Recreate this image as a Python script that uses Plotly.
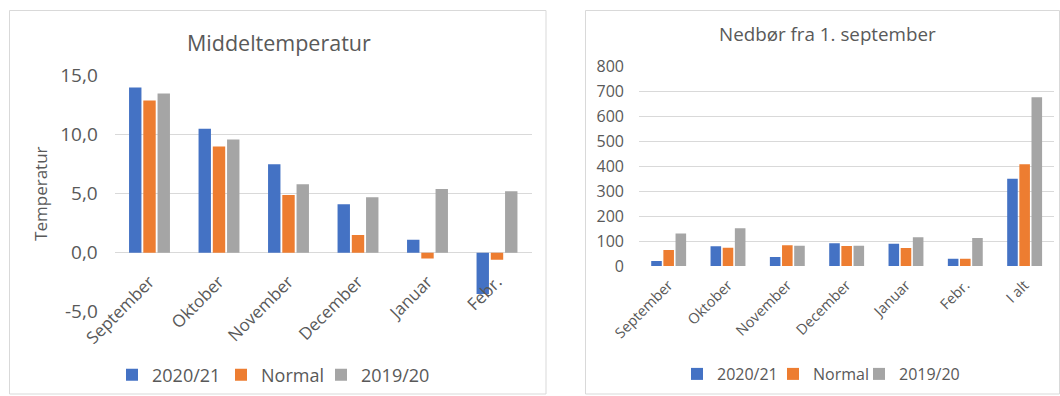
import plotly.graph_objects as go

W, H = 1060, 396

# ---------------- data ----------------
temp_months = ["September", "Oktober", "November", "December", "Januar", "Febr."]
temp_2020_21 = [14.0, 10.5, 7.5, 4.1, 1.1, -3.5]
temp_normal = [12.9, 9.0, 4.9, 1.5, -0.5, -0.6]
temp_2019_20 = [13.5, 9.6, 5.8, 4.7, 5.4, 5.2]
temp_tickvals = [-5, 0, 5, 10, 15]
temp_ticktext = ["-5,0", "0,0", "5,0", "10,0", "15,0"]

rain_months = ["September", "Oktober", "November", "December", "Januar", "Febr.", "I alt"]
rain_2020_21 = [20, 79, 36, 91, 89, 29, 350]
rain_normal = [64, 73, 83, 80, 72, 29, 408]
rain_2019_20 = [130, 151, 81, 81, 115, 112, 676]
rain_tickvals = [0, 100, 200, 300, 400, 500, 600, 700, 800]

series_names = ["2020/21", "Normal", "2019/20"]
colors = ["#4472C4", "#ED7D31", "#A5A5A5"]

TXT = "#595959"
GRID = "#D9D9D9"
FONT = "Open Sans"

def px_x(p):
    return p / W

def px_y(p):
    return 1 - p / H

fig = go.Figure()

left_legends = ["legend", "legend2", "legend3"]
right_legends = ["legend4", "legend5", "legend6"]

for name, vals, col, lg in zip(series_names, [temp_2020_21, temp_normal, temp_2019_20], colors, left_legends):
    fig.add_trace(go.Bar(x=temp_months, y=vals, name=name, marker=dict(color=col, line=dict(width=0)),
                         xaxis="x", yaxis="y", legend=lg, showlegend=True))
for name, vals, col, lg in zip(series_names, [rain_2020_21, rain_normal, rain_2019_20], colors, right_legends):
    fig.add_trace(go.Bar(x=rain_months, y=vals, name=name, marker=dict(color=col, line=dict(width=0)),
                         xaxis="x2", yaxis="y2", legend=lg, showlegend=True))

# legend placement (left edge of each single-entry legend, px)
left_leg_x = [112, 221, 321]
right_leg_x = [677, 773, 859]

legend_layout = {}
for lg, xp in zip(left_legends, left_leg_x):
    legend_layout[lg] = dict(orientation="h", x=px_x(xp), xanchor="left", y=px_y(375), yanchor="middle",
                             font=dict(size=18, color=TXT, family=FONT), itemwidth=30,
                             bgcolor="rgba(0,0,0,0)", borderwidth=0, visible=True)
for lg, xp in zip(right_legends, right_leg_x):
    legend_layout[lg] = dict(orientation="h", x=px_x(xp), xanchor="left", y=px_y(374), yanchor="middle",
                             font=dict(size=16, color=TXT, family=FONT), itemwidth=30,
                             bgcolor="rgba(0,0,0,0)", borderwidth=0, visible=True)

fig.update_layout(
    width=W, height=H,
    margin=dict(l=0, r=0, t=0, b=0, autoexpand=False),
    paper_bgcolor="white", plot_bgcolor="white",
    font=dict(family=FONT, color=TXT),
    showlegend=True,
    barmode="group", bargap=0.385, bargroupgap=0.13,
    separators=", ",
    xaxis=dict(domain=[px_x(114.75), px_x(531.75)], anchor="free", position=px_y(253.7),
               type="category", showgrid=False, showline=False, ticks="", tickangle=-45,
               automargin=False, ticklabelstandoff=14,
               tickfont=dict(size=17, color=TXT, family=FONT)),
    yaxis=dict(domain=[px_y(311.7), px_y(75.7)], anchor="x", range=[-5, 15],
               tickvals=temp_tickvals, ticktext=temp_ticktext,
               showgrid=True, gridcolor=GRID, gridwidth=1, zeroline=False, showline=False,
               ticks="", ticklabelstandoff=16, automargin=False,
               tickfont=dict(size=19, color=TXT, family=FONT),
               title=dict(text="Temperatur", font=dict(size=17, color=TXT, family=FONT), standoff=8)),
    xaxis2=dict(domain=[px_x(639), px_x(1054.3)], anchor="y2",
                type="category", showgrid=False, showline=False, ticks="", tickangle=-45,
                automargin=False, ticklabelstandoff=7,
                tickfont=dict(size=14.5, color=TXT, family=FONT)),
    yaxis2=dict(domain=[px_y(266), px_y(66.3)], anchor="x2", range=[0, 800],
                tickvals=rain_tickvals,
                showgrid=True, gridcolor=GRID, gridwidth=1, zeroline=False, showline=False,
                ticks="", ticklabelstandoff=14, automargin=False,
                tickfont=dict(size=16, color=TXT, family=FONT)),
    annotations=[
        dict(text="Middeltemperatur", x=px_x(279), y=px_y(42), xref="paper", yref="paper",
             xanchor="center", yanchor="middle", showarrow=False,
             font=dict(size=21.5, color=TXT, family=FONT)),
        dict(text="Nedbør fra 1. september", x=px_x(827), y=px_y(34.3), xref="paper", yref="paper",
             xanchor="center", yanchor="middle", showarrow=False,
             font=dict(size=18.8, color=TXT, family=FONT)),
    ],
    shapes=[
        dict(type="rect", xref="paper", yref="paper", x0=px_x(9.5), x1=px_x(546), y0=px_y(394), y1=px_y(10.5),
             line=dict(color=GRID, width=1), fillcolor="rgba(0,0,0,0)", layer="below"),
        dict(type="rect", xref="paper", yref="paper", x0=px_x(585.5), x1=px_x(1059.5), y0=px_y(394), y1=px_y(10.5),
             line=dict(color=GRID, width=1), fillcolor="rgba(0,0,0,0)", layer="below"),
    ],
    **legend_layout,
)

fig.write_html("out.html")
